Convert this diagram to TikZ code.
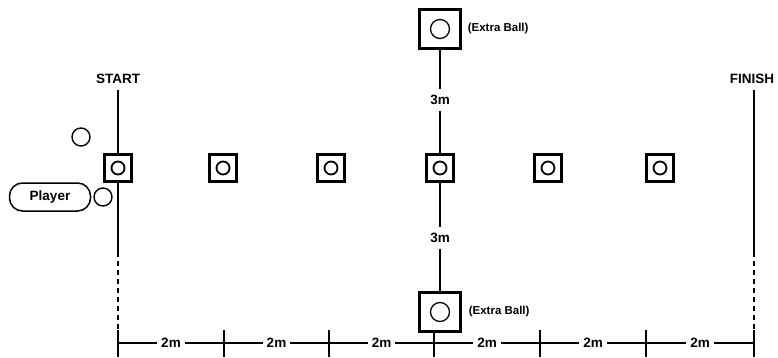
\documentclass[tikz,border=0pt]{standalone}
\usepackage{fontspec}
\setmainfont{Liberation Sans}
\usetikzlibrary{positioning}

\begin{document}
\begin{tikzpicture}[
  x=1pt, y=-1pt,
  font=\fontsize{13.5}{15}\selectfont\bfseries,
  cone/.style={draw, line width=2.4pt, minimum size=27pt, inner sep=0pt},
  conedot/.style={draw, circle, line width=1.8pt, minimum size=13pt, inner sep=0pt},
  extrabox/.style={draw, line width=2.2pt, minimum width=41pt, minimum height=39pt, inner sep=0pt},
  extradot/.style={draw, circle, line width=1.3pt, minimum size=19pt, inner sep=0pt},
  ball/.style={draw, circle, line width=1.4pt, minimum size=18pt, inner sep=0pt},
  lane/.style={line width=2.8pt},
  dash lane/.style={line width=2.6pt, dash pattern=on 5pt off 4pt},
  thinline/.style={line width=1.2pt},
  tick/.style={line width=1.6pt},
  dimlbl/.style={fill=white, inner sep=4pt},
  note/.style={font=\fontsize{11.5}{13}\selectfont\bfseries, inner sep=1pt}
]
\useasboundingbox (0,0) rectangle (778,358);

% start and finish lines
\node (start) at (118,79) {START};
\node (finish) at (752,79) {FINISH};
\coordinate (s1) at (118,90);
\coordinate (s2) at (118,252);
\coordinate (s3) at (118,331);
\coordinate (f1) at (754,90);
\coordinate (f2) at (754,252);
\coordinate (f3) at (754,331);

% cones
\foreach \i/\x in {1/118,2/223,3/331,4/440,5/548,6/660}{
  \node[cone] (c\i) at (\x,168) {};
  \node[conedot] at (c\i) {};
}

\draw[lane] (s1) -- (c1.north);
\draw[lane] (c1.south) -- (s2);
\draw[dash lane] (s2) -- (s3);
\draw[lane] (f1) -- (f2);
\draw[dash lane] (f2) -- (f3);

% extra balls
\node[extrabox] (eb1) at (440,29) {};
\node[extradot] at (eb1) {};
\node[note, right=5pt of eb1] (ebl1) {(Extra Ball)};
\node[extrabox] (eb2) at (440,312) {};
\node[extradot] at (eb2) {};
\node[note, right=6pt of eb2] (ebl2) {(Extra Ball)};

\node[inner sep=6pt] (m3a) at (440,100) {3m};
\node[inner sep=6pt] (m3b) at (440,238) {3m};
\draw[thinline] (eb1.south) -- (m3a.north);
\draw[thinline] (m3a.south) -- (c4.north);
\draw[thinline] (c4.south) -- (m3b.north);
\draw[thinline] (m3b.south) -- (eb2.north);

% player
\node[draw, line width=1.5pt, rounded corners=13pt, minimum width=81pt, minimum height=28pt, inner sep=0pt] (player) at (50,197) {Player};
\node[ball] (ball1) at (103,197) {};
\node[ball] (ball2) at (81,137) {};

% distances
\foreach \i/\x in {0/118,1/224,2/329,3/434,4/540,5/646,6/754}{
  \coordinate (t\i) at (\x,343);
  \draw[tick] (\x,330) -- (\x,357);
}
\foreach \i [evaluate=\i as \j using int(\i+1)] in {0,...,5}{
  \draw[thinline] (t\i) -- node[dimlbl] {2m} (t\j);
}
\end{tikzpicture}
\end{document}
